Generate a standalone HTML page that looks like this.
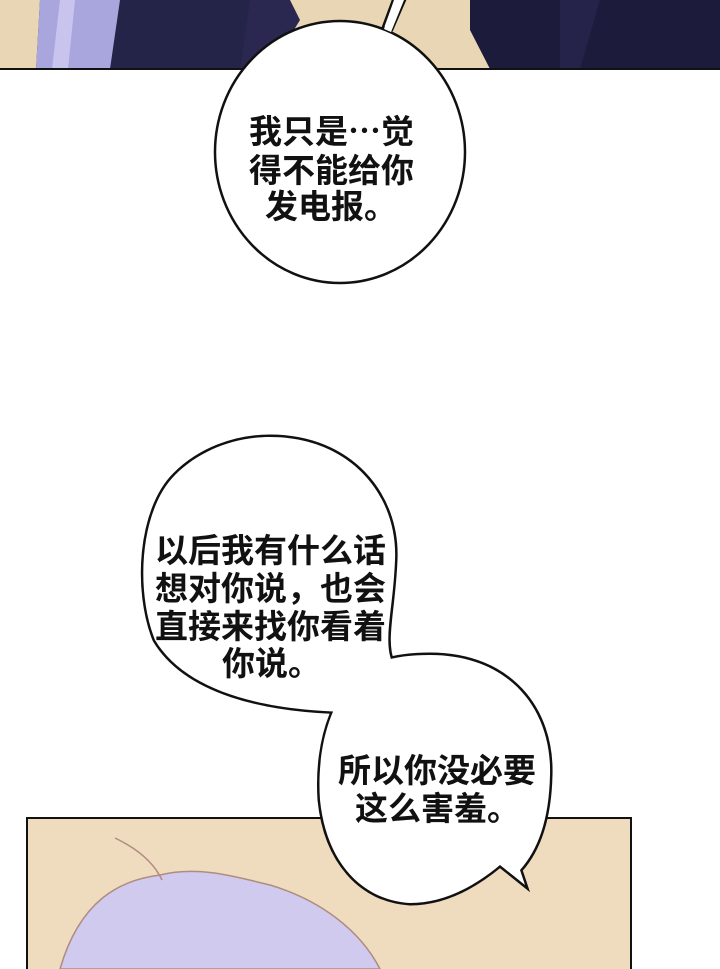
<!DOCTYPE html>
<html><head><meta charset="utf-8"><style>
html,body{margin:0;padding:0;background:#fff;}
svg{display:block;}
text{font-family:"Liberation Sans","Noto Sans CJK SC",sans-serif;font-size:33px;fill:#111;font-weight:bold;}
</style></head><body>
<svg width="720" height="969" viewBox="0 0 720 969" xmlns="http://www.w3.org/2000/svg">
<defs>
<path id="b2" d="M270,437 C350,437 398,495 395,560 C393,610 383,640 392,662 L360,712 C260,712 185,690 155,640 C135,590 140,510 175,475 C200,450 235,437 270,437 Z"/>
<path id="b3" d="M430,655 C510,655 552,710 550,775 C549,820 538,850 520,870 L525,885 L500,865 C470,890 440,903 410,903 C360,900 326,860 320,800 C316,740 335,680 380,662 C395,657 410,655 430,655 Z"/>
</defs>
<rect x="0" y="0" width="720" height="969" fill="#fff"/>
<!-- top panel -->
<rect x="0" y="0" width="720" height="69" fill="#e9d6b4"/>
<polygon points="40,0 290,0 285,69 36,69" fill="#232447"/>
<polygon points="40,0 120,0 110,69 36,69" fill="#a9a6de"/>
<polygon points="60,0 75,0 68,69 52,69" fill="#c8c4ee"/>
<polygon points="250,0 290,0 300,20 270,69 240,69" fill="#2a2850"/>
<polygon points="470,0 720,0 720,69 490,69 470,30" fill="#1c1b3b"/>
<polygon points="560,0 600,0 580,69 560,69" fill="#25234a"/>
<line x1="0" y1="69" x2="720" y2="69" stroke="#111" stroke-width="2"/>
<!-- bubble 1 -->
<path d="M383,27 L393,0 L405,0 L392,30 Z" fill="#fff" stroke="#111" stroke-width="2.5"/>
<ellipse cx="340" cy="152" rx="125" ry="131" fill="#fff" stroke="#111" stroke-width="2.5"/>
<path d="M384,29 L394,0 L404,0 L391,32 Z" fill="#fff"/>
<text x="249" y="143">我只是⋯觉</text>
<text x="249" y="182">得不能给你</text>
<text x="265" y="218">发电报。</text>
<!-- bottom panel -->
<rect x="27" y="818" width="604" height="160" fill="#efdcbf" stroke="#111" stroke-width="2"/>
<path d="M60,969 C80,900 120,880 160,875 C200,865 240,878 270,885 C320,900 360,930 380,969 Z" fill="#cfcaee" stroke="#b08c80" stroke-width="1.5"/>
<path d="M115,838 C140,850 155,865 162,880" fill="none" stroke="#b08c80" stroke-width="1.5"/>
<!-- merged bubbles 2+3 -->
<use href="#b2" fill="#fff" stroke="#111" stroke-width="5"/>
<use href="#b3" fill="#fff" stroke="#111" stroke-width="5"/>
<use href="#b2" fill="#fff"/>
<use href="#b3" fill="#fff"/>
<text x="155" y="562">以后我有什么话</text>
<text x="155" y="600">想对你说，也会</text>
<text x="155" y="638">直接来找你看着</text>
<text x="222" y="675">你说。</text>
<text x="338" y="782">所以你没必要</text>
<text x="355" y="820">这么害羞。</text>
</svg>
</body></html>
